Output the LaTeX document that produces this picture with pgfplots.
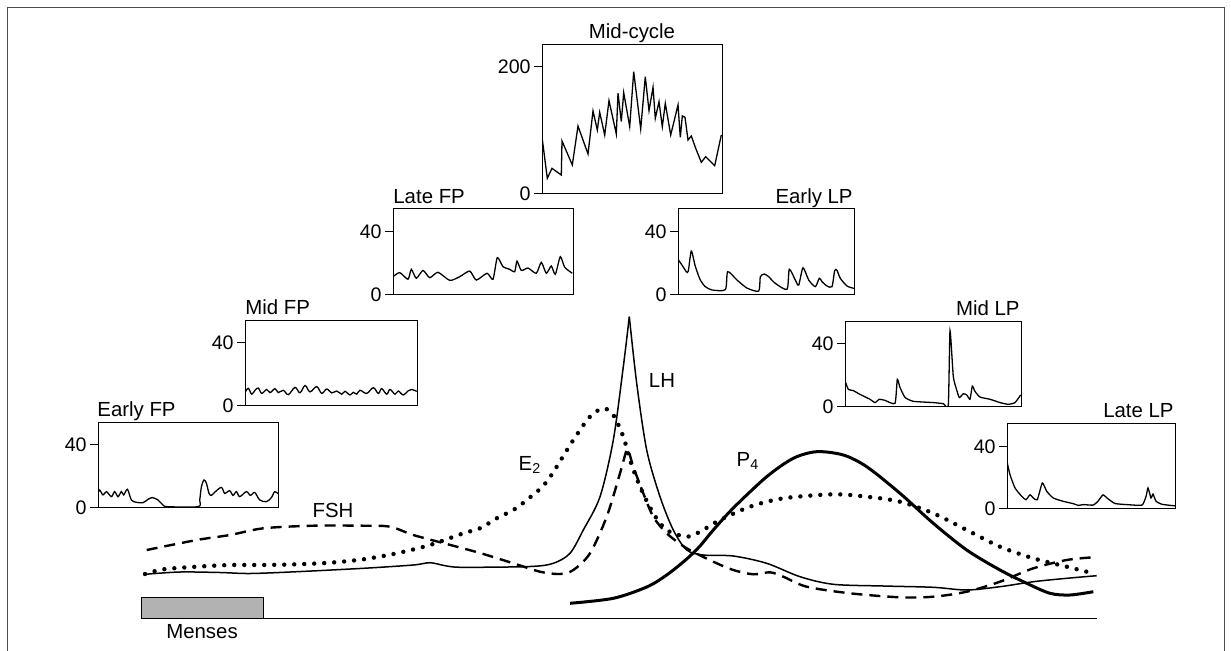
\documentclass[border=0pt]{standalone}
\usepackage{pgfplots}
\pgfplotsset{compat=1.18}
\usepackage{fontspec}
\setmainfont{Liberation Sans}

% 1 px of the reference = 0.5pt
\newcommand\lbl{\fontsize{10.2}{12}\selectfont}
\pgfplotsset{
  inset/.style={
    scale only axis, anchor=south west,
    xmin=0, ymin=0, ymax=54.6,
    xtick=\empty, ytick={0,40}, ytick pos=left,
    tick align=outside, major tick length=4pt,
    axis line style={line width=0.5pt},
    tick style={line width=0.5pt, black},
    tick label style={font=\fontsize{9.8}{11}\selectfont},
    yticklabel style={inner sep=1.5pt},
    /pgf/number format/assume math mode=true,
    no marks,
    every axis plot/.append style={line width=0.65pt, black},
  },
}

\begin{document}
\begin{tikzpicture}
\useasboundingbox (0,0) rectangle (615.5pt,-325.5pt);

\begin{axis}[at={(0,0)}, anchor=north west, scale only axis,
  width=615.5pt, height=325.5pt,
  xmin=0, xmax=1231, ymin=0, ymax=651, y dir=reverse,
  hide axis, clip=false]

% frame
\draw[black!70, line width=0.5pt] (axis cs:7,651) -- (axis cs:7,7) -- (axis cs:1224,7) -- (axis cs:1224,651);

% menses bar and baseline
\draw[line width=0.5pt, fill=black!30] (axis cs:141.5,597.5) rectangle (axis cs:263.5,618);
\draw[line width=0.5pt] (axis cs:263.5,618) -- (axis cs:1097,618);
\node[font=\lbl, anchor=base] at (axis cs:202,638) {Menses};

% FSH
\addplot[black, line width=1.2pt, dash pattern=on 5.5pt off 3.5pt, smooth] coordinates {
(146.7,550)(196.7,540)(230,535)(263.3,528.3)(313.3,525.7)(363.3,525.7)(390,526.7)
(413.3,535)(446.7,544)(480,553)(513.3,563.3)(540,571.7)(560,574)(573.3,570)
(590,553.3)(606.7,516.7)(620,473.3)(626.7,450)(629.3,453.3)(633.3,466.7)
(643.3,493.3)(653.3,516.7)(666.7,533.3)(686.7,548.3)(713.3,561.7)(733.3,570)
(753.3,574.3)(770,572.3)(783.3,576.7)(806.7,586.7)(850,593.3)(900,597.3)
(933.3,596.7)(966.7,591.7)(1000,581.7)(1033.3,568.3)(1066.7,560)(1093.3,557.3)};

% LH
\addplot[black, line width=0.75pt, smooth] coordinates {
(145,574.3)(180,572)(220,572.5)(250,573.5)(296.7,571.7)(363.3,568.3)(413.3,565)
(430,562.7)(446.7,566)(463.3,567.3)(530,566.5)(553.3,563.3)(570,553.3)(583.3,530)
(600,496.7)(613.3,440)(623.3,366.7)(629.3,316.7)};
\addplot[black, line width=0.75pt, smooth] coordinates {
(629.3,316.7)(636.7,383.3)(646.7,450)(660,496.7)(673.3,530)(686.7,550)(703.3,555)
(733.3,556)(766.7,563.3)(800,576.7)(833.3,584.3)(883.3,586)(933.3,587.3)
(966.7,590)(1000,586.7)(1033.3,581.7)(1066.7,578.3)(1096.7,575.7)};

% E2
\addplot[black, line width=2.2pt, line cap=round, dash pattern=on 0pt off 5pt, smooth] coordinates {
(145,574)(163.3,569.3)(196.7,566.7)(230,565)(263.3,565)(296.7,564.3)(330,562.7)
(363.3,559.3)(396.7,553.3)(430,545)(463.3,533.3)(480,528.3)(496.7,518.3)
(513.3,510)(526.7,500)(546.7,481.7)(573.3,440)(590,416.7)(603.3,408.3)
(613.3,415)(623.3,436.7)(630,460)(640,486.7)(653.3,513.3)(666.7,530)
(686.7,536.7)(700,531.7)(720,520)(750,506.7)(783.3,498.3)(833.3,494.3)
(866.7,496.7)(900,501.7)(933.3,513.3)(966.7,530)(1000,546.7)(1033.3,558.3)
(1066.7,566.7)(1086.7,571.7)};

% P4
\addplot[black, line width=1.5pt, smooth] coordinates {
(570,603.3)(613.3,598.3)(646.7,587)(666.7,575)(686.7,559)(700,546)(713.3,530)
(733.3,508)(766.7,476.7)(793.3,458.3)(816.7,451.7)(843.3,455)(866.7,466.7)
(900,493.3)(933.3,523.3)(966.7,550)(1000,570)(1026.7,583.3)(1050,593.3)
(1070,595)(1093.3,591.7)};

% curve labels
\node[font=\lbl, anchor=base] at (axis cs:333,517) {FSH};
\node[font=\lbl, anchor=base] at (axis cs:530,470) {E\textsubscript{2}};
\node[font=\lbl, anchor=base] at (axis cs:662,387) {LH};
\node[font=\lbl, anchor=base] at (axis cs:748,466) {P\textsubscript{4}};

% inset titles
\node[font=\lbl, anchor=base west, inner sep=0pt] at (axis cs:97,416) {Early FP};
\node[font=\lbl, anchor=base west, inner sep=0pt] at (axis cs:245,314) {Mid FP};
\node[font=\lbl, anchor=base west, inner sep=0pt] at (axis cs:393,203) {Late FP};
\node[font=\lbl, anchor=base, inner sep=0pt] at (axis cs:632,39) {Mid-cycle};
\node[font=\lbl, anchor=base east, inner sep=0pt] at (axis cs:853,203) {Early LP};
\node[font=\lbl, anchor=base east, inner sep=0pt] at (axis cs:1020,315) {Mid LP};
\node[font=\lbl, anchor=base east, inner sep=0pt] at (axis cs:1174,417) {Late LP};
\end{axis}

% Early FP
\begin{axis}[inset, at={(49pt,-254pt)}, width=90pt, height=43pt, xmax=180]
\addplot[smooth, tension=0.5] coordinates {
(0,9.3)(1.7,11.4)(5,8.3)(8.4,10.4)(13.4,7.2)(16.7,10.4)(20,7.2)(23.4,10.4)
(25.7,8.3)(29.4,11.9)(33.4,5.1)(38.4,3.6)(45,3.4)(50,5.5)(54.4,6.6)(60,5.1)
(65,1.9)(70,0.85)(100,0.85)(101.7,5)(103.4,13.5)(106,17.8)(108.4,15.7)
(111,9.3)(113.4,8)(116.7,10)(123.4,13.1)(126.7,9.3)(131.7,11)(135,8)
(138.4,10.4)(141.7,7.2)(148.4,10.4)(152.4,8)(156.7,9.9)(161.7,5.1)(168.4,4)
(173.4,6.6)(176.7,10.4)(180,9)};
\end{axis}

% Mid FP
\begin{axis}[inset, at={(122.5pt,-203pt)}, width=86pt, height=43pt, xmax=172]
\addplot[smooth, tension=0.6] coordinates {
(0,8.5)(3.3,11.2)(6.7,7.5)(10,10)(13.3,11.4)(16.7,8)(21.7,10.5)(25,8.5)(30,11)
(33.3,8.5)(38.3,10)(43.3,7.2)(50,11.8)(55,8.4)(60,13)(65,9)(71.7,12.3)(76.7,8)
(81.7,10.8)(86.7,8.3)(91.7,9.5)(96.7,7.5)(100,9.3)(105,7)(108.3,8.7)(111.7,7.5)
(115,10)(121.7,8)(128.3,11.6)(133.3,8)(136.7,11)(141.7,7.5)(145,10.5)(150,7.5)
(153.3,9.5)(158.3,7)(163.3,9.7)(166.7,10.5)(171.7,9.3)};
\end{axis}

% Late FP
\begin{axis}[inset, at={(196.5pt,-147.5pt)}, width=90pt, height=43pt, xmax=180]
\addplot[smooth, tension=0.4] coordinates {
(0,11.6)(6.7,14.2)(15,10)(18.3,16.3)(23.3,10.6)(30,15.6)(36.7,11)(45,14.4)
(56.7,9.3)(66.7,11.6)(76.7,15.2)(83.3,9.5)(94,13.8)(100,10)(104.3,23.7)
(110,18)(116.7,16.3)(121.7,14.8)(124,21.5)(128.3,15.6)(135,17.1)(143.3,13.8)
(148.3,20.7)(153.3,13.8)(158.3,18.4)(162.3,13.1)(167.3,24.3)(171.7,17.6)(179.3,13.8)};
\end{axis}

% Mid-cycle
\begin{axis}[inset, at={(271pt,-97pt)}, width=90pt, height=74.5pt, xmax=180,
  ymax=234.6, ytick={0,200}]
\addplot[sharp plot] coordinates {
(0.3,86.1)(5.3,24.7)(10,40.4)(19.3,29.9)(20,83.5)(30.3,45.7)(36,107)(46,63)
(51,130.7)(55.3,100.8)(57.7,128.6)(62.7,92.9)(67,147)(74.3,94.5)(76,158.6)
(79.3,113.9)(81.7,159.6)(87.7,106)(91.7,192.6)(98.7,102.4)(103.3,184.8)
(107,131.2)(111,168)(113.3,119.2)(117,145.4)(120.3,106)(123.3,142.8)
(128.7,92.9)(136,140.2)(138.3,89.2)(140.3,122.8)(143,120.7)(146,85)
(149.3,91.3)(153.7,71.9)(159.3,49.9)(163.7,58.8)(172.7,44.6)(179.3,92.9)};
\end{axis}

% Early LP
\begin{axis}[inset, at={(339pt,-147.5pt)}, width=88pt, height=43pt, xmax=176]
\addplot[smooth, tension=0.4] coordinates {
(0,22.6)(4,19)(8.3,14.8)(10.3,15.2)(13.3,27.9)(17.3,18.2)(22.3,9.5)(27.3,5.3)
(34,3.2)(47.3,3.4)(49.7,14.8)(59,9.5)(69,4.4)(80.7,2.5)(82.3,11.6)(86.3,13.3)
(90.7,11.6)(97.3,7.4)(109,3.6)(111.3,16.3)(117.3,9.5)(120.7,6.3)(125,17.3)
(130.7,9.5)(137.3,5.3)(141.3,10.6)(144,8.5)(149,5.7)(154,5.3)(156.7,15.6)
(159,15.6)(162.3,10.6)(169,5.7)(176,4.2)};
\end{axis}

% Mid LP
\begin{axis}[inset, at={(422.5pt,-203.5pt)}, width=88pt, height=43pt, xmax=176]
\addplot[smooth, tension=0.3] coordinates {
(0,16.7)(3.3,11.2)(8.3,10.4)(15,8)(25,4.9)(30,2.8)(34.3,4.9)(40,4.2)(50,2.3)
(52.3,17.6)(55,12.4)(60,6.1)(68.3,3.6)(88.3,2.8)(98.3,2.1)(103.3,1.3)
(105,48.5)(108.3,19.3)(111.7,10.8)(114.3,6)(118.3,8.4)(121.7,7.7)(125,4.9)
(127.3,13.3)(130,9.9)(135,6.3)(145,4.9)(155,2.8)(163.3,1.7)(170,2.8)(175.7,7.7)};
\end{axis}

% Late LP
\begin{axis}[inset, at={(503.5pt,-254.5pt)}, width=84pt, height=42.6pt, xmax=168, ymax=54.4]
\addplot[smooth, tension=0.3] coordinates {
(0.3,29.3)(3,21.9)(8,13.4)(14.7,8.1)(19,5.9)(23,9.1)(26.3,7)(30.3,5.9)
(35.3,16.6)(39.7,11.3)(46.3,7)(56.3,4.9)(66.3,3.4)(71.3,2.3)(76.3,2.8)
(86.3,2.5)(91,5)(96,9)(101,6.5)(108,3.5)(120,2.8)(135,2.5)(139,8)(141,13.4)
(144,7)(146,9.5)(149,5)(155,3)(168,2)};
\end{axis}
\end{tikzpicture}
\end{document}
